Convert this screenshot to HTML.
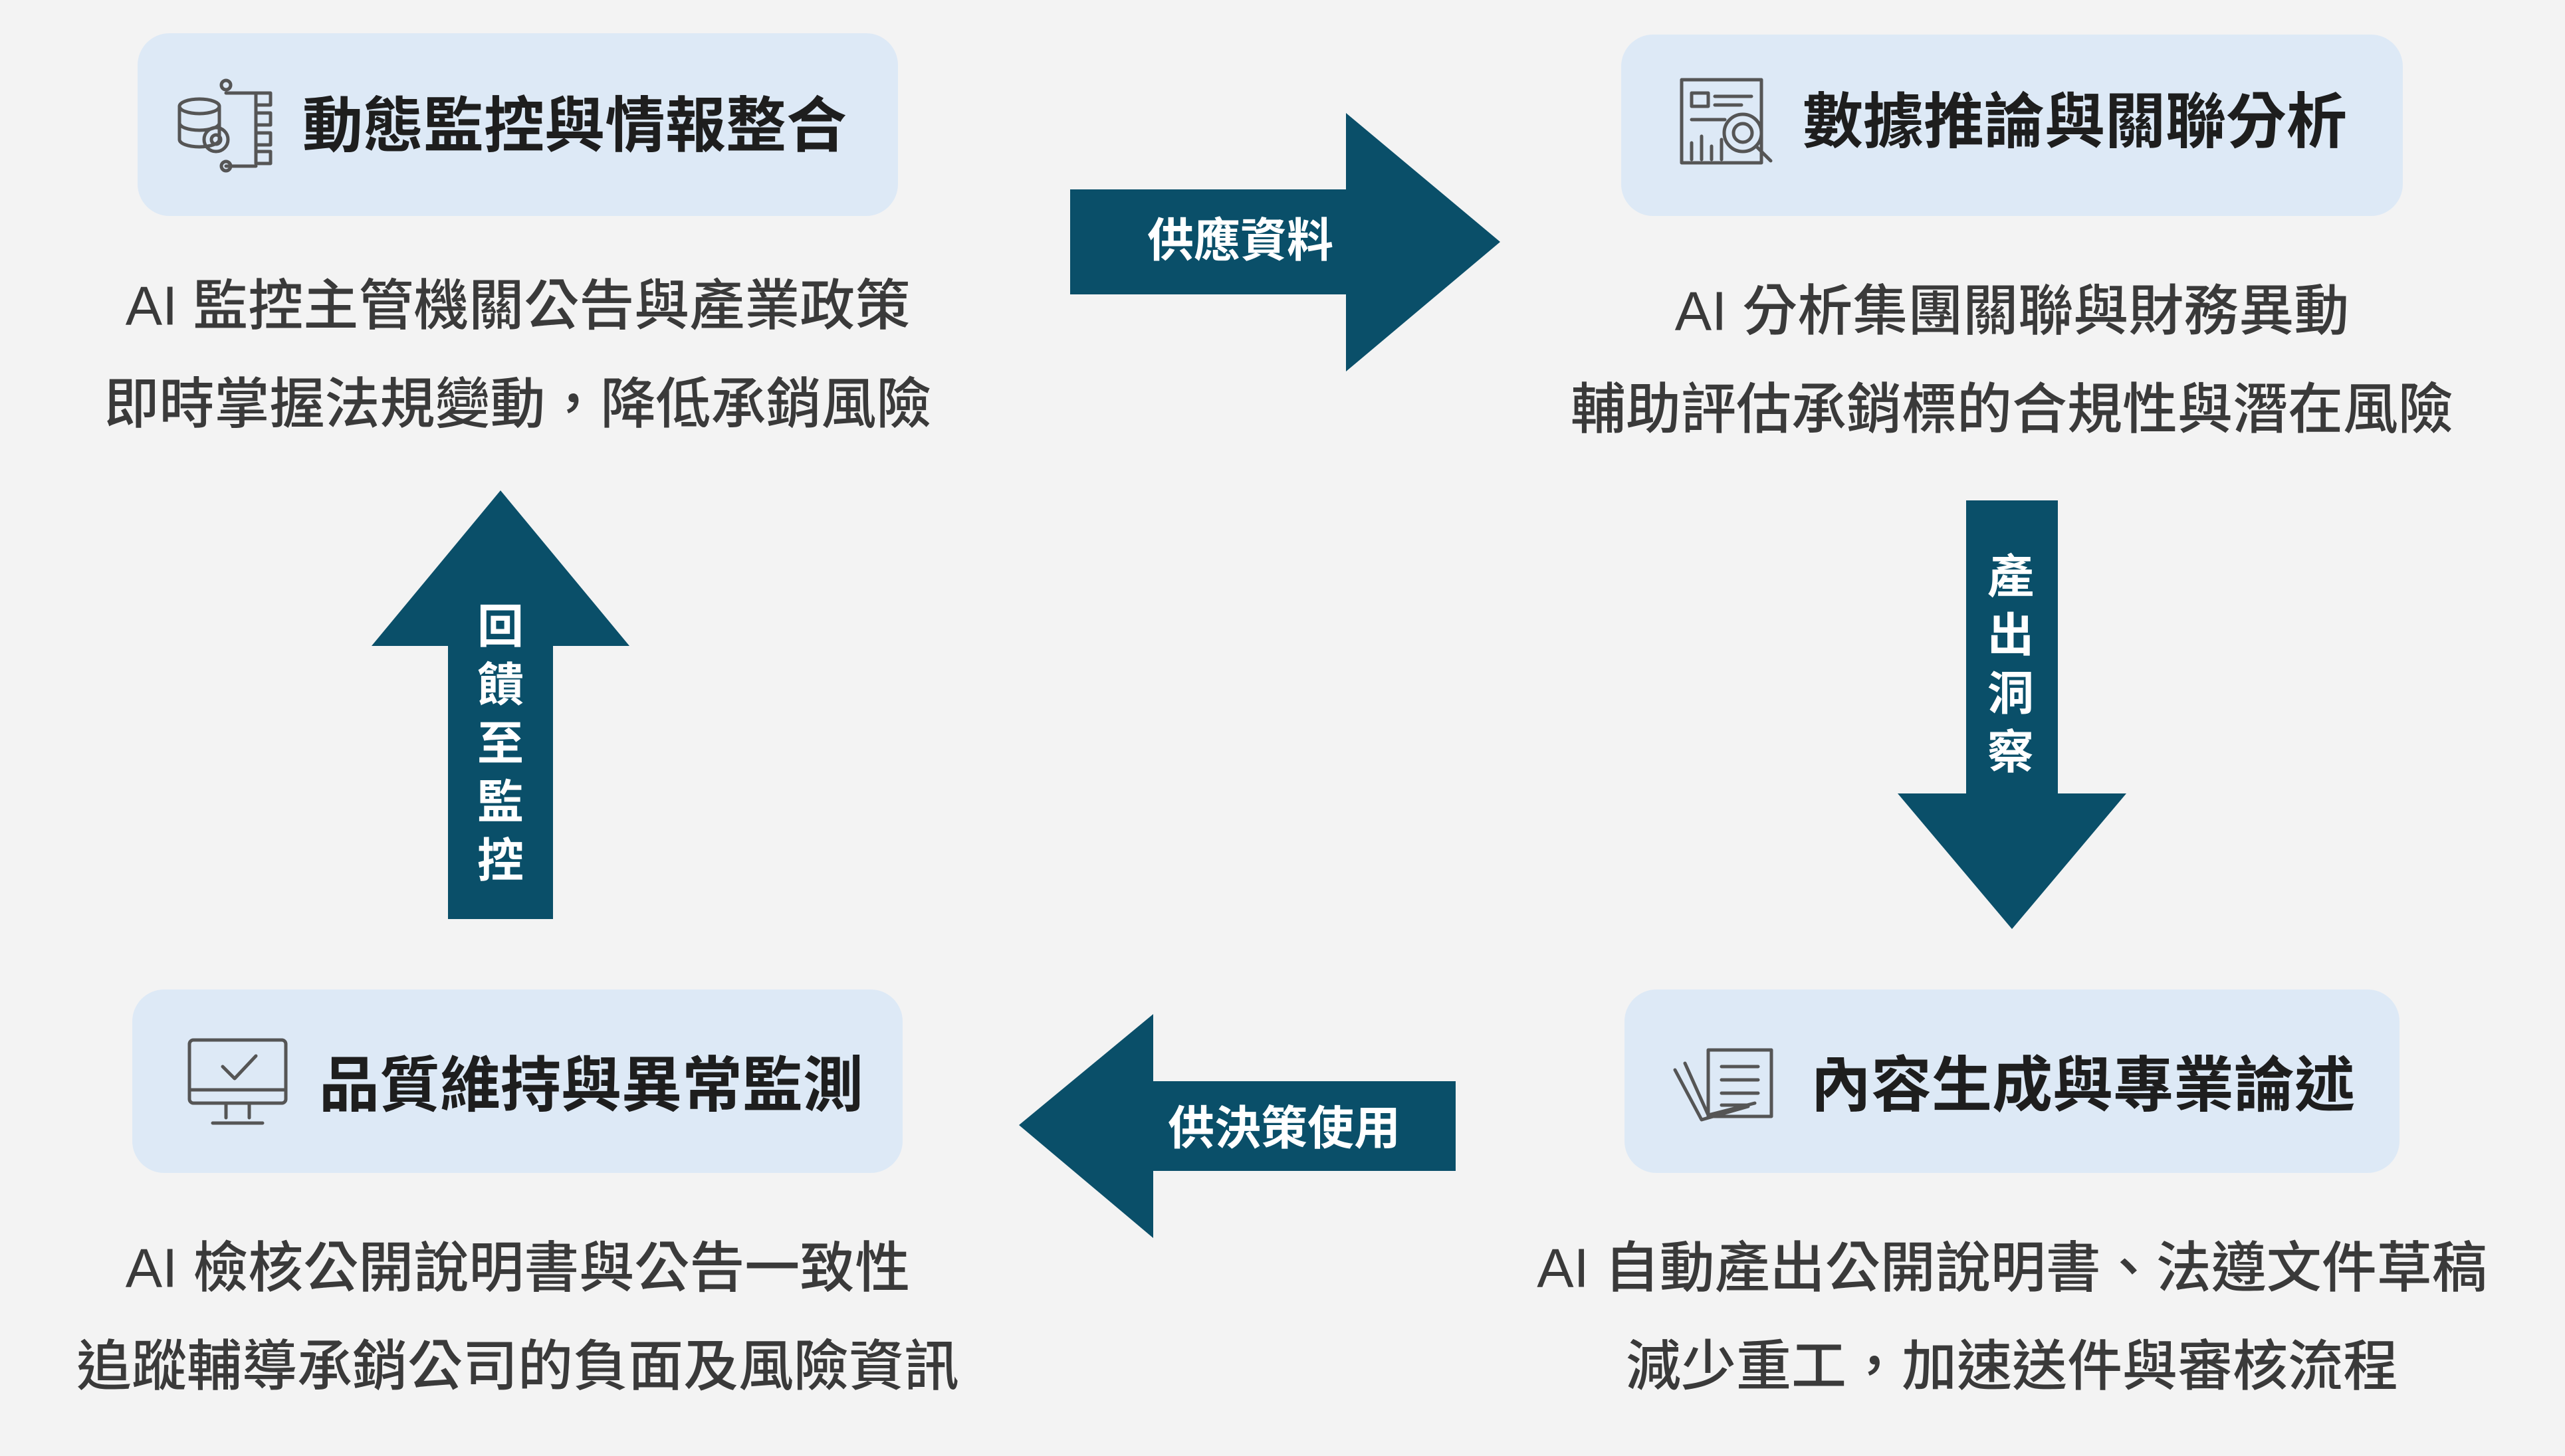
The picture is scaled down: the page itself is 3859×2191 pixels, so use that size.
<!DOCTYPE html>
<html><head><meta charset="utf-8"><style>
html,body{margin:0;padding:0;background:#f3f3f3;}
svg{display:block;}
text{font-family:"Liberation Sans","Noto Sans CJK TC",sans-serif;}
.t{font-size:91px;font-weight:600;fill:#1e1e1e;}
.b{font-size:83px;font-weight:500;fill:#3a3a3a;}
.w{font-size:70px;font-weight:700;fill:#ffffff;}
.ic{fill:none;stroke:#555;stroke-width:5;stroke-linejoin:round;stroke-linecap:round;}
</style></head><body>
<svg width="3859" height="2191" viewBox="0 0 3859 2191" xmlns="http://www.w3.org/2000/svg">
<rect width="3859" height="2191" fill="#f3f3f3"/>
<rect x="207" y="50" width="1144" height="275" rx="48" fill="#dde9f6"/>
<rect x="2439" y="52" width="1176" height="273" rx="48" fill="#dde9f6"/>
<rect x="199" y="1489" width="1159" height="276" rx="48" fill="#dde9f6"/>
<rect x="2444" y="1489" width="1166" height="276" rx="48" fill="#dde9f6"/>

<text class="t" x="455" y="190" dominant-baseline="central">動態監控與情報整合</text>
<text class="t" x="2712" y="184" dominant-baseline="central">數據推論與關聯分析</text>
<text class="t" x="480" y="1634" dominant-baseline="central">品質維持與異常監測</text>
<text class="t" x="2724" y="1634" dominant-baseline="central">內容生成與專業論述</text>

<g text-anchor="middle">
<text class="b" x="779" y="460" dominant-baseline="central">AI 監控主管機關公告與產業政策</text>
<text class="b" x="779" y="608" dominant-baseline="central">即時掌握法規變動，降低承銷風險</text>
<text class="b" x="3027" y="468" dominant-baseline="central">AI 分析集團關聯與財務異動</text>
<text class="b" x="3027" y="616" dominant-baseline="central">輔助評估承銷標的合規性與潛在風險</text>
<text class="b" x="779" y="1908" dominant-baseline="central">AI 檢核公開說明書與公告一致性</text>
<text class="b" x="779" y="2056" dominant-baseline="central">追蹤輔導承銷公司的負面及風險資訊</text>
<text class="b" x="3027" y="1908" dominant-baseline="central">AI 自動產出公開說明書、法遵文件草稿</text>
<text class="b" x="3027" y="2056" dominant-baseline="central">減少重工，加速送件與審核流程</text>
</g>

<g fill="#0a4f69">
<polygon points="1610,285 2025,285 2025,170 2257,364 2025,559 2025,443 1610,443"/>
<polygon points="2958,753 3096,753 3096,1194 3199,1194 3027,1398 2855,1194 2958,1194"/>
<polygon points="2190,1627 1735,1627 1735,1526 1533,1693 1735,1863 1735,1762 2190,1762"/>
<polygon points="674,1383 674,972 559,972 753,738 947,972 832,972 832,1383"/>
</g>
<g text-anchor="middle">
<text class="w" x="1866" y="362" dominant-baseline="central">供應資料</text>
<text class="w" x="1932" y="1698" dominant-baseline="central">供決策使用</text>
<text class="w" x="3025" y="868" dominant-baseline="central">產</text>
<text class="w" x="3025" y="956" dominant-baseline="central">出</text>
<text class="w" x="3025" y="1044" dominant-baseline="central">洞</text>
<text class="w" x="3025" y="1132" dominant-baseline="central">察</text>
<text class="w" x="753" y="943" dominant-baseline="central">回</text>
<text class="w" x="753" y="1031" dominant-baseline="central">饋</text>
<text class="w" x="753" y="1119" dominant-baseline="central">至</text>
<text class="w" x="753" y="1207" dominant-baseline="central">監</text>
<text class="w" x="753" y="1295" dominant-baseline="central">控</text>
</g>

<g class="ic">
<ellipse cx="300" cy="160" rx="30" ry="11"/>
<path d="M270 160 v50 a30 11 0 0 0 60 0 v-50"/>
<path d="M270 185 a30 11 0 0 0 60 0"/>
<circle cx="325" cy="210" r="18"/><circle cx="325" cy="210" r="7"/>
<path d="M340 140 h45 M385 140 v100 M340 250 h45"/>
<rect x="385" y="140" width="22" height="18"/><rect x="385" y="170" width="22" height="18"/><rect x="385" y="200" width="22" height="18"/><rect x="385" y="228" width="22" height="18"/>
<circle cx="340" cy="128" r="7"/><circle cx="340" cy="250" r="7"/>
</g>
<g class="ic">
<rect x="2530" y="120" width="120" height="125"/>
<path d="M2545 140 h25 v20 h-25z M2580 145 h55 M2580 158 h40 M2545 180 h50"/>
<path d="M2545 240 v-25 M2560 240 v-35 M2575 240 v-20 M2590 240 v-30"/>
<circle cx="2622" cy="200" r="28"/><circle cx="2622" cy="200" r="14"/>
<path d="M2642 220 l22 22"/>
</g>
<g class="ic">
<rect x="285" y="1565" width="145" height="95" rx="6"/>
<path d="M285 1640 h145 M340 1660 v22 M375 1660 v22 M320 1690 h75"/>
<path d="M335 1605 l18 18 l32 -34"/>
</g>
<g class="ic">
<path d="M2520 1610 l40 75 l70 -20"/>
<path d="M2535 1600 l35 78 l70 -18"/>
<rect x="2570" y="1580" width="95" height="100"/>
<path d="M2590 1605 h55 M2590 1625 h55 M2590 1645 h55 M2590 1663 h40"/>
</g>
</svg>
</body></html>
